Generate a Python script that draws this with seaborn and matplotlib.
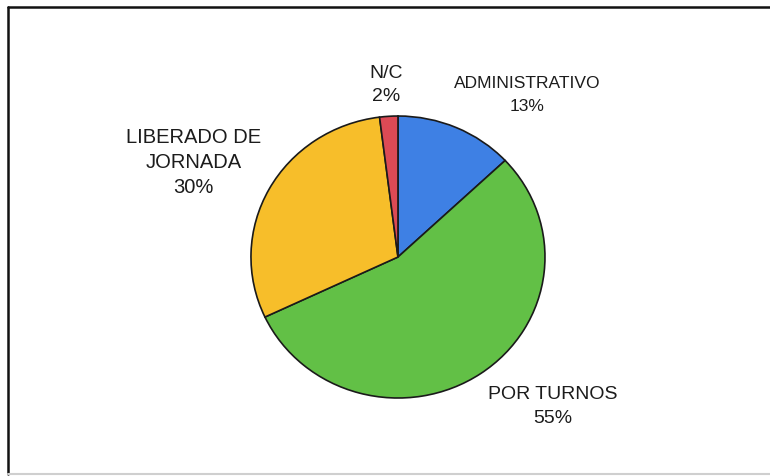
import matplotlib
matplotlib.use("Agg")
import matplotlib.pyplot as plt
import seaborn as sns
from matplotlib.lines import Line2D

sns.set_theme(style="white")
plt.rcParams['font.family'] = ['Liberation Sans', 'DejaVu Sans']

# data
categories = ["ADMINISTRATIVO", "POR TURNOS", "LIBERADO DE\nJORNADA", "N/C"]
percent = [13, 55, 30, 2]
colors = ["#3e80e4", "#62c046", "#f7be2a", "#dc4a55"]

# label block centres (pie data units), font sizes and line spacing
label_xy = [(0.88, 1.15), (1.05, -1.06), (-1.39, 0.67), (-0.08, 1.22)]
label_size = [12.5, 14, 14.5, 14]
label_spacing = [1.7, 1.55, 1.4, 1.45]

fig = plt.figure(figsize=(7.7, 4.76), dpi=100)
fig.patch.set_facecolor("white")

# pie area, a touch wider than tall like the scan
ax = fig.add_axes([0.2782, 0.0898, 0.4773, 0.7405])
wedges, _ = ax.pie(percent, colors=colors, startangle=90, counterclock=False,
                   wedgeprops=dict(edgecolor="#1a1a1a", linewidth=1.2))
ax.set_aspect("auto")
ax.set_xlim(-1.25, 1.25)
ax.set_ylim(-1.25, 1.25)

for name, pct, (x, y), fs, ls in zip(categories, percent, label_xy, label_size, label_spacing):
    ax.text(x, y, f"{name}\n{pct}%", ha="center", va="center", fontsize=fs,
            color="#1c1c1c", linespacing=ls, clip_on=False)

# chart frame (right edge is cut off in the reference)
fig.add_artist(Line2D([0.0104, 1.0], [0.9853, 0.9853], transform=fig.transFigure,
                      color="#111111", linewidth=1.8))
fig.add_artist(Line2D([0.0104, 0.0104], [0.0042, 0.9853], transform=fig.transFigure,
                      color="#111111", linewidth=1.8))
fig.add_artist(Line2D([0.0104, 1.0], [0.0042, 0.0042], transform=fig.transFigure,
                      color="#cfcfcf", linewidth=1.5))

fig.savefig("out.png", dpi=100)
